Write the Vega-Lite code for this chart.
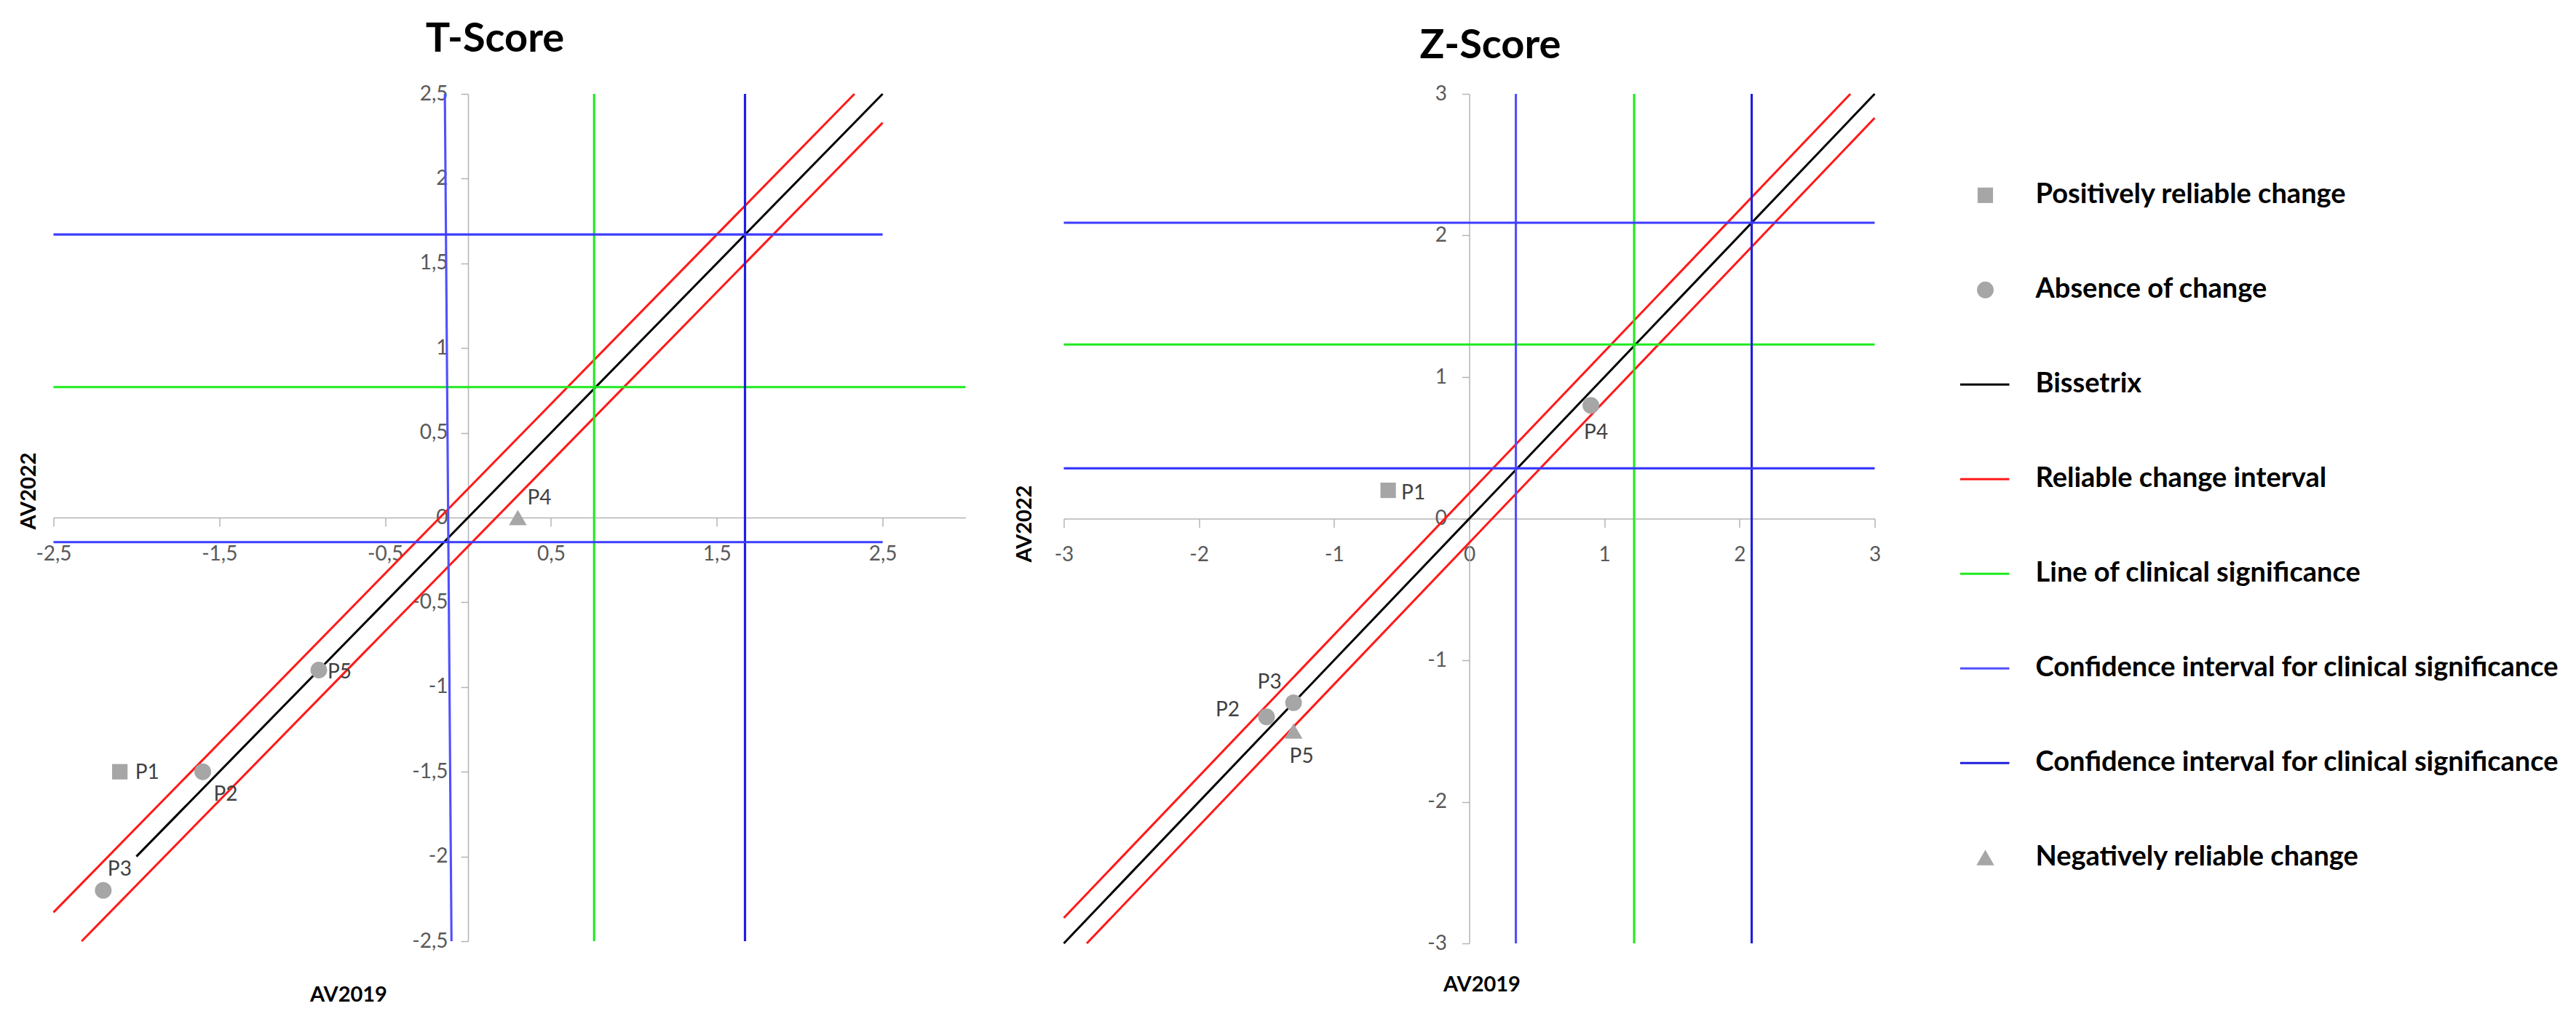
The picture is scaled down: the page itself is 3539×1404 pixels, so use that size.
{
  "$schema": "https://vega.github.io/schema/vega-lite/v6.json",
  "background": "white",
  "padding": {"left": 24.5, "top": 26, "right": 0, "bottom": 0},
  "autosize": {"type": "pad"},
  "bounds": "flush",
  "spacing": 135,
  "config": {"view": {"stroke": null}, "font": "Lato"},
  "resolve": {"scale": {"x": "independent", "y": "independent"}},
  "datasets": {
    "tLines": [
      {"seg": "bis", "kind": "bis", "x1": -2, "y1": -2, "x2": 2.5, "y2": 2.5},
      {"seg": "rcu", "kind": "rci", "x1": -2.5, "y1": -2.33, "x2": 2.33, "y2": 2.5},
      {"seg": "rcl", "kind": "rci", "x1": -2.33, "y1": -2.5, "x2": 2.5, "y2": 2.33},
      {"seg": "gv", "kind": "cs", "x1": 0.76, "y1": -2.5, "x2": 0.76, "y2": 2.5},
      {"seg": "gh", "kind": "cs", "x1": -2.5, "y1": 0.77, "x2": 3, "y2": 0.77},
      {"seg": "bv1", "kind": "ci1", "x1": -0.14, "y1": 2.5, "x2": -0.1, "y2": -2.5},
      {"seg": "bv2", "kind": "ci2", "x1": 1.67, "y1": -2.5, "x2": 1.67, "y2": 2.5},
      {"seg": "bh1", "kind": "ciH", "x1": -2.5, "y1": 1.67, "x2": 2.5, "y2": 1.67},
      {"seg": "bh2", "kind": "ciH", "x1": -2.5, "y1": -0.145, "x2": 2.5, "y2": -0.145}
    ],
    "zLines": [
      {"seg": "bis", "kind": "bis", "x1": -3, "y1": -3, "x2": 3, "y2": 3},
      {"seg": "rcu", "kind": "rci", "x1": -3, "y1": -2.82, "x2": 2.82, "y2": 3},
      {"seg": "rcl", "kind": "rci", "x1": -2.83, "y1": -3, "x2": 3, "y2": 2.83},
      {"seg": "gv", "kind": "cs", "x1": 1.22, "y1": -3, "x2": 1.22, "y2": 3},
      {"seg": "gh", "kind": "cs", "x1": -3, "y1": 1.23, "x2": 3, "y2": 1.23},
      {"seg": "bv1", "kind": "ci1", "x1": 0.345, "y1": -3, "x2": 0.345, "y2": 3},
      {"seg": "bv2", "kind": "ci2", "x1": 2.09, "y1": -3, "x2": 2.09, "y2": 3},
      {"seg": "bh1", "kind": "ciH", "x1": -3, "y1": 2.09, "x2": 3, "y2": 2.09},
      {"seg": "bh2", "kind": "ciH", "x1": -3, "y1": 0.355, "x2": 3, "y2": 0.355}
    ],
    "tPts": [
      {"id": "P1", "cat": "pos", "x": -2.1, "y": -1.5},
      {"id": "P2", "cat": "abs", "x": -1.6, "y": -1.5},
      {"id": "P3", "cat": "abs", "x": -2.2, "y": -2.2},
      {"id": "P4", "cat": "neg", "x": 0.3, "y": 0.0},
      {"id": "P5", "cat": "abs", "x": -0.9, "y": -0.9}
    ],
    "zPts": [
      {"id": "P1", "cat": "pos", "x": -0.6, "y": 0.2},
      {"id": "P2", "cat": "abs", "x": -1.5, "y": -1.4},
      {"id": "P3", "cat": "abs", "x": -1.3, "y": -1.3},
      {"id": "P4", "cat": "abs", "x": 0.9, "y": 0.8},
      {"id": "P5", "cat": "neg", "x": -1.3, "y": -1.5}
    ],
    "legendItems": [
      {"order": 1, "item": "Positively reliable change", "cat": "pos"},
      {"order": 2, "item": "Absence of change", "cat": "abs"},
      {"order": 3, "item": "Bissetrix", "kind": "bis"},
      {"order": 4, "item": "Reliable change interval", "kind": "rci"},
      {"order": 5, "item": "Line of clinical significance", "kind": "cs"},
      {"order": 6, "item": "Confidence interval for clinical significance", "kind": "ci1"},
      {"order": 7, "item": "Confidence interval for clinical significance", "kind": "ci2"},
      {"order": 8, "item": "Negatively reliable change", "cat": "neg"}
    ]
  },
  "hconcat": [
    {
      "width": 1253,
      "height": 1164,
      "title": {"text": "T-Score", "fontSize": 56, "font": "Lato", "fontWeight": "bold", "color": "#000000", "frame": "group", "anchor": "middle", "dx": -20, "baseline": "alphabetic", "offset": -12},
      "layer": [
        {
          "data": {"name": "tLines"},
          "mark": {"type": "rule"},
          "encoding": {
            "x": {"field": "x1", "type": "quantitative", "scale": {"domain": [-2.5, 3], "nice": false, "zero": false},
              "axis": {"title": "AV2019", "values": [-2.5, -1.5, -0.5, 0.5, 1.5, 2.5], "labelExpr": "replace(toString(datum.value), '.', ',')", "offset": -582, "grid": false, "domainColor": "#b4b4b4", "domainWidth": 1.5, "tickColor": "#b4b4b4", "tickWidth": 1.5, "tickSize": 12, "labelPadding": 24, "labelFont": "Lato", "labelFontSize": 28, "labelColor": "#595959", "labelFlush": false, "labelOverlap": false, "titleFont": "Lato", "titleFontSize": 29, "titleFontWeight": "bold", "titleColor": "#000000", "titleX": 405, "titleY": 655, "titleBaseline": "middle", "titleAlign": "center", "titleAngle": 0}},
            "y": {"field": "y1", "type": "quantitative", "scale": {"domain": [-2.5, 2.5], "nice": false, "zero": false},
              "axis": {"title": "AV2022", "values": [-2.5, -2, -1.5, -1, -0.5, 0, 0.5, 1, 1.5, 2, 2.5], "labelExpr": "replace(toString(datum.value), '.', ',')", "offset": -569.5, "grid": false, "domainColor": "#b4b4b4", "domainWidth": 1.5, "tickColor": "#b4b4b4", "tickWidth": 1.5, "tickSize": 10, "labelPadding": 18, "labelFont": "Lato", "labelFontSize": 28, "labelColor": "#595959", "labelOverlap": false, "titleFont": "Lato", "titleFontSize": 29, "titleFontWeight": "bold", "titleColor": "#000000", "titleX": -604, "titleY": 545, "titleBaseline": "middle", "titleAlign": "center", "titleAngle": 270}},
            "x2": {"field": "x2"},
            "y2": {"field": "y2"},
            "color": {"field": "kind", "type": "nominal", "scale": {"domain": ["bis", "rci", "cs", "ci1", "ci2", "ciH"], "range": ["#000000", "#ff1a1a", "#1fea1f", "#5050ff", "#1f1fdd", "#3c3cff"]}, "legend": null},
            "strokeWidth": {"field": "kind", "type": "ordinal", "scale": {"domain": ["bis", "rci", "cs", "ci1", "ci2", "ciH"], "range": [3, 3.2, 3, 2.5, 4, 4.5]}, "legend": null}
          }
        },
        {
          "data": {"name": "tPts"},
          "mark": {"type": "point", "filled": true, "opacity": 1, "color": "#a6a6a6"},
          "encoding": {
            "x": {"field": "x", "type": "quantitative"},
            "y": {"field": "y", "type": "quantitative"},
            "shape": {"field": "cat", "type": "nominal", "scale": {"domain": ["pos", "abs", "neg"], "range": ["square", "circle", "triangle-up"]}, "legend": null},
            "size": {"field": "cat", "type": "ordinal", "scale": {"domain": ["pos", "abs", "neg"], "range": [450, 600, 620]}, "legend": null}
          }
        },
        {"data": {"name": "tPts"}, "transform": [{"filter": "datum.id == 'P1'"}], "mark": {"type": "text", "align": "left", "baseline": "middle", "dx": 21, "dy": 2, "fontSize": 28, "font": "Lato", "color": "#404040"}, "encoding": {"x": {"field": "x", "type": "quantitative"}, "y": {"field": "y", "type": "quantitative"}, "text": {"field": "id"}}},
        {"data": {"name": "tPts"}, "transform": [{"filter": "datum.id == 'P2'"}], "mark": {"type": "text", "align": "left", "baseline": "middle", "dx": 15, "dy": 32, "fontSize": 28, "font": "Lato", "color": "#404040"}, "encoding": {"x": {"field": "x", "type": "quantitative"}, "y": {"field": "y", "type": "quantitative"}, "text": {"field": "id"}}},
        {"data": {"name": "tPts"}, "transform": [{"filter": "datum.id == 'P3'"}], "mark": {"type": "text", "align": "left", "baseline": "middle", "dx": 6, "dy": -28, "fontSize": 28, "font": "Lato", "color": "#404040"}, "encoding": {"x": {"field": "x", "type": "quantitative"}, "y": {"field": "y", "type": "quantitative"}, "text": {"field": "id"}}},
        {"data": {"name": "tPts"}, "transform": [{"filter": "datum.id == 'P4'"}], "mark": {"type": "text", "align": "left", "baseline": "middle", "dx": 13, "dy": -26, "fontSize": 28, "font": "Lato", "color": "#404040"}, "encoding": {"x": {"field": "x", "type": "quantitative"}, "y": {"field": "y", "type": "quantitative"}, "text": {"field": "id"}}},
        {"data": {"name": "tPts"}, "transform": [{"filter": "datum.id == 'P5'"}], "mark": {"type": "text", "align": "left", "baseline": "middle", "dx": 12, "dy": 3, "fontSize": 28, "font": "Lato", "color": "#404040"}, "encoding": {"x": {"field": "x", "type": "quantitative"}, "y": {"field": "y", "type": "quantitative"}, "text": {"field": "id"}}}
      ]
    },
    {
      "width": 1114,
      "height": 1167,
      "title": {"text": "Z-Score", "fontSize": 56, "font": "Lato", "fontWeight": "bold", "color": "#000000", "frame": "group", "anchor": "middle", "dx": 29, "baseline": "alphabetic", "offset": -21},
      "layer": [
        {
          "data": {"name": "zLines"},
          "mark": {"type": "rule"},
          "encoding": {
            "x": {"field": "x1", "type": "quantitative", "scale": {"domain": [-3, 3], "nice": false, "zero": false},
              "axis": {"title": "AV2019", "values": [-3, -2, -1, 0, 1, 2, 3], "labelExpr": "replace(toString(datum.value), '.', ',')", "offset": -583.5, "grid": false, "domainColor": "#b4b4b4", "domainWidth": 1.5, "tickColor": "#b4b4b4", "tickWidth": 1.5, "tickSize": 12, "labelPadding": 24, "labelFont": "Lato", "labelFontSize": 28, "labelColor": "#595959", "labelFlush": false, "labelOverlap": false, "titleFont": "Lato", "titleFontSize": 29, "titleFontWeight": "bold", "titleColor": "#000000", "titleX": 574, "titleY": 640, "titleBaseline": "middle", "titleAlign": "center", "titleAngle": 0}},
            "y": {"field": "y1", "type": "quantitative", "scale": {"domain": [-3, 3], "nice": false, "zero": false},
              "axis": {"title": "AV2022", "values": [-3, -2, -1, 0, 1, 2, 3], "labelExpr": "replace(toString(datum.value), '.', ',')", "offset": -557, "grid": false, "domainColor": "#b4b4b4", "domainWidth": 1.5, "tickColor": "#b4b4b4", "tickWidth": 1.5, "tickSize": 10, "labelPadding": 21, "labelFont": "Lato", "labelFontSize": 28, "labelColor": "#595959", "labelOverlap": false, "titleFont": "Lato", "titleFontSize": 29, "titleFontWeight": "bold", "titleColor": "#000000", "titleX": -611, "titleY": 590, "titleBaseline": "middle", "titleAlign": "center", "titleAngle": 270}},
            "x2": {"field": "x2"},
            "y2": {"field": "y2"},
            "color": {"field": "kind", "type": "nominal", "scale": {"domain": ["bis", "rci", "cs", "ci1", "ci2", "ciH"], "range": ["#000000", "#ff1a1a", "#1fea1f", "#5050ff", "#1f1fdd", "#3c3cff"]}, "legend": null},
            "strokeWidth": {"field": "kind", "type": "ordinal", "scale": {"domain": ["bis", "rci", "cs", "ci1", "ci2", "ciH"], "range": [3, 3.2, 3, 2.5, 4, 4.5]}, "legend": null}
          }
        },
        {
          "data": {"name": "zPts"},
          "mark": {"type": "point", "filled": true, "opacity": 1, "color": "#a6a6a6"},
          "encoding": {
            "x": {"field": "x", "type": "quantitative"},
            "y": {"field": "y", "type": "quantitative"},
            "shape": {"field": "cat", "type": "nominal", "scale": {"domain": ["pos", "abs", "neg"], "range": ["square", "circle", "triangle-up"]}, "legend": null},
            "size": {"field": "cat", "type": "ordinal", "scale": {"domain": ["pos", "abs", "neg"], "range": [450, 600, 620]}, "legend": null}
          }
        },
        {"data": {"name": "zPts"}, "transform": [{"filter": "datum.id == 'P1'"}], "mark": {"type": "text", "align": "left", "baseline": "middle", "dx": 18, "dy": 4, "fontSize": 28, "font": "Lato", "color": "#404040"}, "encoding": {"x": {"field": "x", "type": "quantitative"}, "y": {"field": "y", "type": "quantitative"}, "text": {"field": "id"}}},
        {"data": {"name": "zPts"}, "transform": [{"filter": "datum.id == 'P2'"}], "mark": {"type": "text", "align": "right", "baseline": "middle", "dx": -37, "dy": -9, "fontSize": 28, "font": "Lato", "color": "#404040"}, "encoding": {"x": {"field": "x", "type": "quantitative"}, "y": {"field": "y", "type": "quantitative"}, "text": {"field": "id"}}},
        {"data": {"name": "zPts"}, "transform": [{"filter": "datum.id == 'P3'"}], "mark": {"type": "text", "align": "center", "baseline": "middle", "dx": -33, "dy": -27, "fontSize": 28, "font": "Lato", "color": "#404040"}, "encoding": {"x": {"field": "x", "type": "quantitative"}, "y": {"field": "y", "type": "quantitative"}, "text": {"field": "id"}}},
        {"data": {"name": "zPts"}, "transform": [{"filter": "datum.id == 'P4'"}], "mark": {"type": "text", "align": "center", "baseline": "middle", "dx": 7, "dy": 38, "fontSize": 28, "font": "Lato", "color": "#404040"}, "encoding": {"x": {"field": "x", "type": "quantitative"}, "y": {"field": "y", "type": "quantitative"}, "text": {"field": "id"}}},
        {"data": {"name": "zPts"}, "transform": [{"filter": "datum.id == 'P5'"}], "mark": {"type": "text", "align": "center", "baseline": "middle", "dx": 11, "dy": 36, "fontSize": 28, "font": "Lato", "color": "#404040"}, "encoding": {"x": {"field": "x", "type": "quantitative"}, "y": {"field": "y", "type": "quantitative"}, "text": {"field": "id"}}}
      ]
    },
    {
      "width": 800,
      "height": 1167,
      "data": {"name": "legendItems"},
      "layer": [
        {
          "transform": [{"filter": "isValid(datum.kind)"}],
          "mark": {"type": "rule"},
          "encoding": {
            "x": {"datum": -0.22, "type": "quantitative", "scale": {"domain": [0, 10], "nice": false, "zero": false}, "axis": null},
            "x2": {"datum": 0.625},
            "y": {"field": "order", "type": "quantitative", "scale": {"domain": [-0.0715, 8.906], "nice": false, "zero": false, "reverse": true}, "axis": null},
            "color": {"field": "kind", "type": "nominal", "scale": {"domain": ["bis", "rci", "cs", "ci1", "ci2", "ciH"], "range": ["#000000", "#ff1a1a", "#1fea1f", "#5050ff", "#1f1fdd", "#3c3cff"]}, "legend": null},
            "strokeWidth": {"field": "kind", "type": "ordinal", "scale": {"domain": ["bis", "rci", "cs", "ci1", "ci2", "ciH"], "range": [3, 3.2, 3, 2.5, 4, 4.5]}, "legend": null}
          }
        },
        {
          "transform": [{"filter": "isValid(datum.cat)"}],
          "mark": {"type": "point", "filled": true, "opacity": 1, "color": "#a6a6a6"},
          "encoding": {
            "x": {"datum": 0.2125, "type": "quantitative"},
            "y": {"field": "order", "type": "quantitative"},
            "shape": {"field": "cat", "type": "nominal", "scale": {"domain": ["pos", "abs", "neg"], "range": ["square", "circle", "triangle-up"]}, "legend": null},
            "size": {"field": "cat", "type": "ordinal", "scale": {"domain": ["pos", "abs", "neg"], "range": [450, 600, 620]}, "legend": null}
          }
        },
        {
          "mark": {"type": "text", "align": "left", "baseline": "middle", "fontSize": 38, "font": "Lato", "fontWeight": "bold", "color": "#000000"},
          "encoding": {
            "x": {"datum": 1.075, "type": "quantitative"},
            "y": {"field": "order", "type": "quantitative"},
            "text": {"field": "item"}
          }
        }
      ]
    }
  ]
}
